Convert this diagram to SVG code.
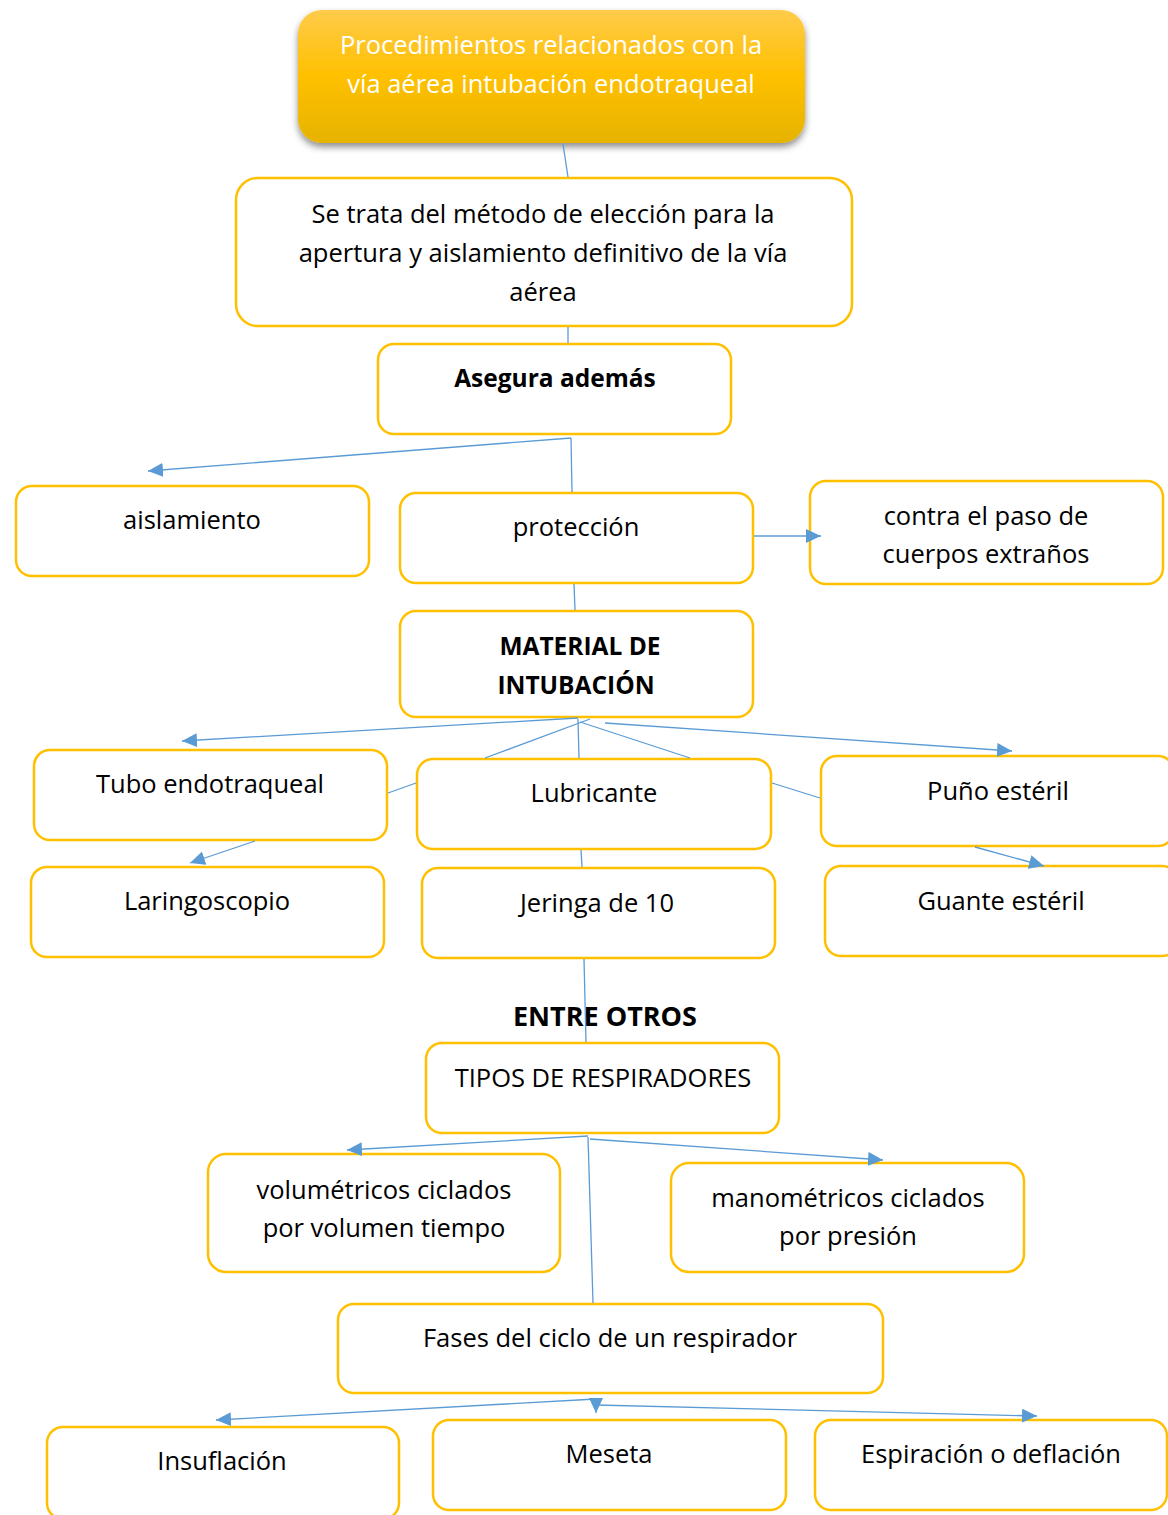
<svg xmlns="http://www.w3.org/2000/svg" width="1168" height="1515" viewBox="0 0 1168 1515">
<style>
.box{fill:#fff;stroke:#FFC000;stroke-width:2.5}
.t{font-family:"Open Sans","Liberation Sans",sans-serif;font-size:25.5px;fill:#000;text-anchor:middle}
.b{font-weight:bold;font-size:24.5px}
.e{font-size:27px}
.w{fill:#fff;font-size:25.5px}
.c line{stroke:#5B9BD5;stroke-width:1.3;fill:none}
.c .a{marker-end:url(#arr)}
</style>
<defs>
<linearGradient id="g" x1="0" y1="0" x2="0" y2="1">
<stop offset="0" stop-color="#FFCB4A"/>
<stop offset="0.5" stop-color="#FFC000"/>
<stop offset="1" stop-color="#E6B300"/>
</linearGradient>
<filter id="sh" x="-10%" y="-10%" width="120%" height="140%">
<feDropShadow dx="0" dy="4" stdDeviation="3.5" flood-color="#000" flood-opacity="0.45"/>
</filter>
<marker id="arr" markerUnits="userSpaceOnUse" markerWidth="16" markerHeight="14" refX="15" refY="7" orient="auto">
<path d="M0,0 L15,7 L0,14 Z" fill="#5B9BD5"/>
</marker>
</defs>
<g id="title">
<rect x="298" y="10" width="507" height="133" rx="24" fill="url(#g)" filter="url(#sh)"/>
<text class="t w" x="551" y="54">Procedimientos relacionados con la</text>
<text class="t w" x="551" y="93">vía aérea intubación endotraqueal</text>
</g>
<g id="metodo">
<rect class="box" x="236" y="178" width="616" height="148" rx="22"/>
<text class="t" x="543" y="223">Se trata del método de elección para la</text>
<text class="t" x="543" y="262">apertura y aislamiento definitivo de la vía</text>
<text class="t" x="543" y="301">aérea</text>
</g>
<g id="asegura">
<rect class="box" x="378" y="344" width="353" height="90" rx="16"/>
<text class="t b" x="555" y="387">Asegura además</text>
</g>
<g id="aislamiento">
<rect class="box" x="16" y="486" width="353" height="90" rx="16"/>
<text class="t" x="192" y="529">aislamiento</text>
</g>
<g id="proteccion">
<rect class="box" x="400" y="493" width="353" height="90" rx="16"/>
<text class="t" x="576" y="536">protección</text>
</g>
<g id="contra">
<rect class="box" x="810" y="481" width="353" height="103" rx="16"/>
<text class="t" x="986" y="525">contra el paso de</text>
<text class="t" x="986" y="563">cuerpos extraños</text>
</g>
<g id="material">
<rect class="box" x="400" y="611" width="353" height="106" rx="16"/>
<text class="t b" x="580" y="655">MATERIAL DE</text>
<text class="t b" x="576" y="694">INTUBACIÓN</text>
</g>
<g id="tubo">
<rect class="box" x="34" y="750" width="353" height="90" rx="16"/>
<text class="t" x="210" y="793">Tubo endotraqueal</text>
</g>
<g id="lubricante">
<rect class="box" x="417" y="759" width="354" height="90" rx="16"/>
<text class="t" x="594" y="802">Lubricante</text>
</g>
<g id="puno">
<rect class="box" x="821" y="756" width="353" height="90" rx="16"/>
<text class="t" x="998" y="800">Puño estéril</text>
</g>
<g id="laringoscopio">
<rect class="box" x="31" y="867" width="353" height="90" rx="16"/>
<text class="t" x="207" y="910">Laringoscopio</text>
</g>
<g id="jeringa">
<rect class="box" x="422" y="868" width="353" height="90" rx="16"/>
<text class="t" x="597" y="912">Jeringa de 10</text>
</g>
<g id="guante">
<rect class="box" x="825" y="866" width="353" height="90" rx="16"/>
<text class="t" x="1001" y="910">Guante estéril</text>
</g>
<g id="entre">
<text class="t b e" x="605" y="1026">ENTRE OTROS</text>
</g>
<g id="tipos">
<rect class="box" x="426" y="1043" width="353" height="90" rx="16"/>
<text class="t" x="603" y="1087">TIPOS DE RESPIRADORES</text>
</g>
<g id="volumetricos">
<rect class="box" x="208" y="1154" width="352" height="118" rx="18"/>
<text class="t" x="384" y="1199">volumétricos ciclados</text>
<text class="t" x="384" y="1237">por volumen tiempo</text>
</g>
<g id="manometricos">
<rect class="box" x="671" y="1163" width="353" height="109" rx="18"/>
<text class="t" x="848" y="1207">manométricos ciclados</text>
<text class="t" x="848" y="1245">por presión</text>
</g>
<g id="fases">
<rect class="box" x="338" y="1304" width="545" height="89" rx="16"/>
<text class="t" x="610" y="1347">Fases del ciclo de un respirador</text>
</g>
<g id="insuflacion">
<rect class="box" x="47" y="1427" width="352" height="92" rx="16"/>
<text class="t" x="222" y="1470">Insuflación</text>
</g>
<g id="meseta">
<rect class="box" x="433" y="1420" width="353" height="90" rx="16"/>
<text class="t" x="609" y="1463">Meseta</text>
</g>
<g id="espiracion">
<rect class="box" x="815" y="1420" width="352" height="90" rx="16"/>
<text class="t" x="991" y="1463">Espiración o deflación</text>
</g>
<g class="c" id="connectors">
<line x1="563" y1="144" x2="568" y2="177"/>
<line x1="568" y1="327" x2="568" y2="343"/>
<line class="a" x1="571" y1="438" x2="148" y2="471"/>
<line x1="571" y1="438" x2="572" y2="492"/>
<line class="a" x1="754" y1="536" x2="821" y2="536"/>
<line x1="574" y1="584" x2="575" y2="610"/>
<line class="a" x1="578" y1="718" x2="182" y2="741"/>
<line x1="590" y1="719" x2="485" y2="758"/>
<line x1="416" y1="783" x2="388" y2="793"/>
<line x1="578" y1="719" x2="579" y2="758"/>
<line x1="580" y1="722" x2="690" y2="758"/>
<line x1="772" y1="783" x2="820" y2="798"/>
<line class="a" x1="605" y1="723" x2="1012" y2="751"/>
<line class="a" x1="255" y1="841" x2="190" y2="863"/>
<line x1="581" y1="850" x2="582" y2="867"/>
<line class="a" x1="975" y1="847" x2="1044" y2="866"/>
<line x1="584" y1="959" x2="586" y2="1042"/>
<line class="a" x1="588" y1="1136" x2="347" y2="1150"/>
<line class="a" x1="590" y1="1139" x2="883" y2="1160"/>
<line x1="588" y1="1137" x2="593" y2="1303"/>
<line class="a" x1="596" y1="1399" x2="216" y2="1420"/>
<line class="a" x1="596" y1="1399" x2="596" y2="1413"/>
<line class="a" x1="596" y1="1405" x2="1037" y2="1416"/>
</g>
</svg>
